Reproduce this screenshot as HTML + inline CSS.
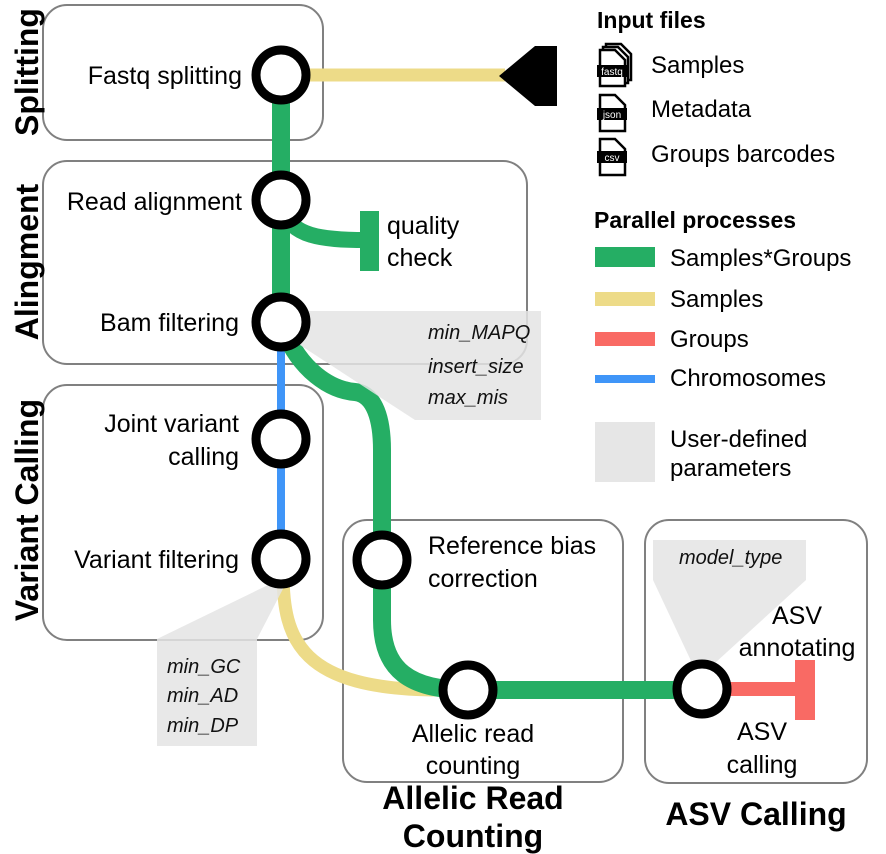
<!DOCTYPE html>
<html><head><meta charset="utf-8"><style>
html,body{margin:0;padding:0;background:#fff;}
svg{display:block;font-family:"Liberation Sans",Arial,sans-serif;}
</style></head><body>
<svg width="886" height="854" viewBox="0 0 886 854" xmlns="http://www.w3.org/2000/svg">
<g fill="none" stroke="#808080" stroke-width="2">
<rect x="43" y="5" width="280" height="135" rx="24"/>
<rect x="43" y="161" width="484" height="203" rx="24"/>
<rect x="43" y="385" width="280" height="255" rx="24"/>
<rect x="343" y="520" width="280" height="262" rx="24"/>
<rect x="645" y="520" width="222" height="263" rx="24"/>
</g>
<g fill="none" stroke-linecap="butt">
<path d="M281 75 H505" stroke="#eddb88" stroke-width="13"/>
<path d="M281 75 V322" stroke="#25ae64" stroke-width="18"/>
<path d="M283 210 C292 236 320 240 366 240" stroke="#25ae64" stroke-width="16"/>
<path d="M281 322 V559" stroke="#3f95f8" stroke-width="8"/>
<path d="M283 572 C283 640 300 690 440 690 L468 690" stroke="#eddb88" stroke-width="13"/>
<path d="M284 330 C300 370 330 390 355 392 C375 394 382 420 382 450 L382 620 C382 670 410 690 468 690" stroke="#25ae64" stroke-width="18"/>
<path d="M468 690 H702" stroke="#25ae64" stroke-width="18"/>
<path d="M702 689 H805" stroke="#f96a64" stroke-width="14"/>
</g>
<rect x="360" y="211" width="19" height="60" fill="#25ae64"/>
<rect x="795" y="660" width="20" height="60" fill="#f96a64"/>
<polygon points="499,76 535,46 557,46 557,106 535,106" fill="#000"/>
<g fill="#e4e4e4" fill-opacity="0.85">
<polygon points="292,311 541,311 541,420 415,420 300,345"/>
<polygon points="268,585 285,585 257,639 257,746 157,746 157,639"/>
<polygon points="653,540 806,540 806,580 715,663 692,663 653,580"/>
</g>
<g font-style="italic" font-size="20" fill="#111">
<text x="428" y="339">min_MAPQ</text>
<text x="428" y="373">insert_size</text>
<text x="428" y="404">max_mis</text>
<text x="167" y="673">min_GC</text>
<text x="167" y="702">min_AD</text>
<text x="167" y="732">min_DP</text>
<text x="679" y="564">model_type</text>
</g>
<g fill="#fff" stroke="#000" stroke-width="9">
<circle cx="281" cy="75" r="25"/>
<circle cx="281" cy="200" r="25"/>
<circle cx="281" cy="322" r="25"/>
<circle cx="281" cy="439" r="25"/>
<circle cx="281" cy="559" r="25"/>
<circle cx="382" cy="560" r="25"/>
<circle cx="468" cy="690" r="25"/>
<circle cx="702" cy="689" r="25"/>
</g>
<g font-size="25" fill="#000">
<text x="242" y="84" text-anchor="end">Fastq splitting</text>
<text x="242" y="210" text-anchor="end">Read alignment</text>
<text x="387" y="234">quality</text>
<text x="387" y="266">check</text>
<text x="239" y="331" text-anchor="end">Bam filtering</text>
<text x="239" y="432" text-anchor="end">Joint variant</text>
<text x="239" y="465" text-anchor="end">calling</text>
<text x="239" y="568" text-anchor="end">Variant filtering</text>
<text x="428" y="554">Reference bias</text>
<text x="428" y="587">correction</text>
<text x="473" y="742" text-anchor="middle">Allelic read</text>
<text x="473" y="774" text-anchor="middle">counting</text>
<text x="797" y="624" text-anchor="middle">ASV</text>
<text x="797" y="656" text-anchor="middle">annotating</text>
<text x="762" y="740" text-anchor="middle">ASV</text>
<text x="762" y="773" text-anchor="middle">calling</text>
</g>
<g font-size="32" font-weight="bold" fill="#000">
<text transform="translate(38,72) rotate(-90)" text-anchor="middle">Splitting</text>
<text transform="translate(38,262) rotate(-90)" text-anchor="middle">Alingment</text>
<text transform="translate(38,510) rotate(-90)" text-anchor="middle">Variant Calling</text>
<text x="473" y="809" text-anchor="middle">Allelic Read</text>
<text x="473" y="847" text-anchor="middle">Counting</text>
<text x="756" y="825" text-anchor="middle">ASV Calling</text>
</g>
<text x="597" y="28" font-size="23" font-weight="bold">Input files</text>
<g font-size="24">
<text x="651" y="73">Samples</text>
<text x="651" y="117">Metadata</text>
<text x="651" y="162">Groups barcodes</text>
</g>
<g>
<path d="M606 44 h15 l10 10 v26 h-25 z" fill="#fff" stroke="#000" stroke-width="2.5"/>
<path d="M603 47 h15 l10 10 v26 h-25 z" fill="#fff" stroke="#000" stroke-width="2.5"/>
<path d="M600 50 h15 l10 10 v26 h-25 z" fill="#fff" stroke="#000" stroke-width="2.5"/>
<rect x="597" y="65" width="30" height="12" fill="#000"/>
<text x="612" y="75" font-size="10" fill="#fff" text-anchor="middle">fastq</text>
<path d="M600 95 h15 l10 10 v26 h-25 z" fill="#fff" stroke="#000" stroke-width="2.5"/>
<rect x="597" y="108" width="30" height="12" fill="#000"/>
<text x="612" y="118" font-size="10" fill="#fff" text-anchor="middle">json</text>
<path d="M600 139 h15 l10 10 v26 h-25 z" fill="#fff" stroke="#000" stroke-width="2.5"/>
<rect x="597" y="151" width="30" height="12" fill="#000"/>
<text x="612" y="161" font-size="10" fill="#fff" text-anchor="middle">csv</text>
</g>
<text x="594" y="228" font-size="23" font-weight="bold">Parallel processes</text>
<rect x="595" y="247" width="60" height="20" fill="#25ae64"/>
<rect x="595" y="292" width="60" height="14" fill="#eddb88"/>
<rect x="595" y="332" width="60" height="14" fill="#f96a64"/>
<rect x="595" y="375" width="60" height="8" fill="#3f95f8"/>
<rect x="595" y="422" width="60" height="60" fill="#e6e6e6"/>
<g font-size="24">
<text x="670" y="266">Samples*Groups</text>
<text x="670" y="307">Samples</text>
<text x="670" y="347">Groups</text>
<text x="670" y="386">Chromosomes</text>
<text x="670" y="447">User-defined</text>
<text x="670" y="476">parameters</text>
</g>
</svg>
</body></html>
